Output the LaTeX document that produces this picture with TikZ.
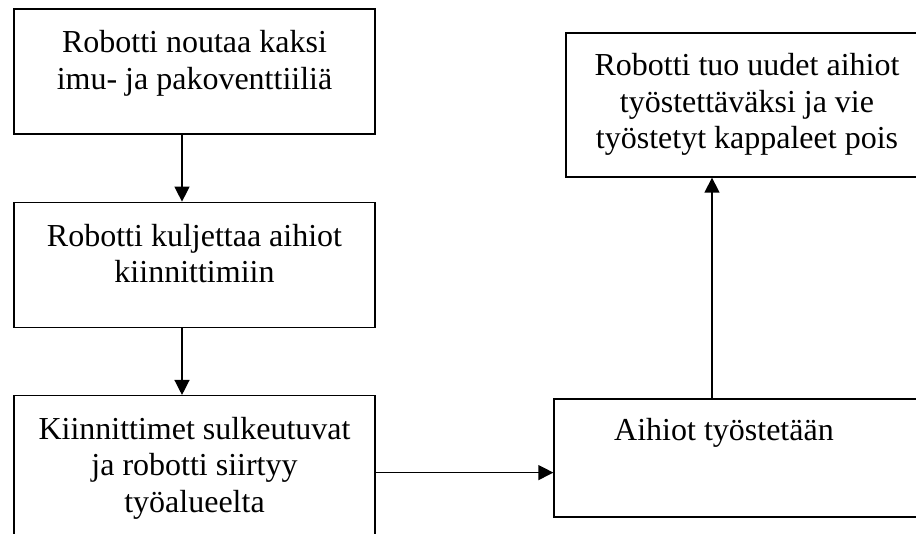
\documentclass[tikz,border=0pt]{standalone}
\usepackage{fontspec}
\setmainfont{Liberation Serif}
\usetikzlibrary{positioning,arrows.meta}

\begin{document}
\begin{tikzpicture}[x=1pt,y=-1pt,node distance=67pt,
    stepbox/.style={draw,line width=1.3pt,rectangle,inner sep=0pt,minimum width=361pt,minimum height=125pt},
    steptext/.style={anchor=north,align=center,inner sep=0pt,font=\fontsize{32}{36.5}\selectfont},
    flow/.style={line width=1.3pt,-{Triangle[length=15pt,width=15pt]}}]

\clip (0,0) rectangle (916,534);

    \node (noutaa) [stepbox] at (194.5,71.5) {};
    \node (kuljettaa) [stepbox, below=of noutaa] {};
    \node (sulkeutuvat) [stepbox, below=of kuljettaa, minimum height=154pt] {};
    \node (tyostetaan) [stepbox, minimum width=386pt, minimum height=118pt] at (747,458) {};
    \node (tuo) [stepbox, minimum width=362pt, minimum height=144pt] at (747,105) {};

    \node (noutaaT) [steptext, below=22pt of noutaa.north] {Robotti noutaa kaksi\\imu- ja pakoventtiiliä};
    \node (kuljettaaT) [steptext, below=22pt of kuljettaa.north] {Robotti kuljettaa aihiot\\kiinnittimiin};
    \node (sulkeutuvatT) [steptext, below=22pt of sulkeutuvat.north] {Kiinnittimet sulkeutuvat\\ja robotti siirtyy\\työalueelta};
    \node (tyostetaanT) [steptext, below=20pt of tyostetaan.north, xshift=-23pt] {Aihiot työstetään};
    \node (tuoT) [steptext, below=21pt of tuo.north] {Robotti tuo uudet aihiot\\työstettäväksi ja vie\\työstetyt kappaleet pois};

%    arrows
    \draw[flow] ([xshift=-12.5pt]noutaa.south) -- ([xshift=-12.5pt]kuljettaa.north);
    \draw[flow] ([xshift=-12.5pt]kuljettaa.south) -- ([xshift=-12.5pt]sulkeutuvat.north);
    \draw[flow] (sulkeutuvat.east) -- (sulkeutuvat.east -| tyostetaan.west);
    \draw[flow] ([xshift=-35pt]tyostetaan.north) -- ([xshift=-35pt]tuo.south);

\end{tikzpicture}
\end{document}
